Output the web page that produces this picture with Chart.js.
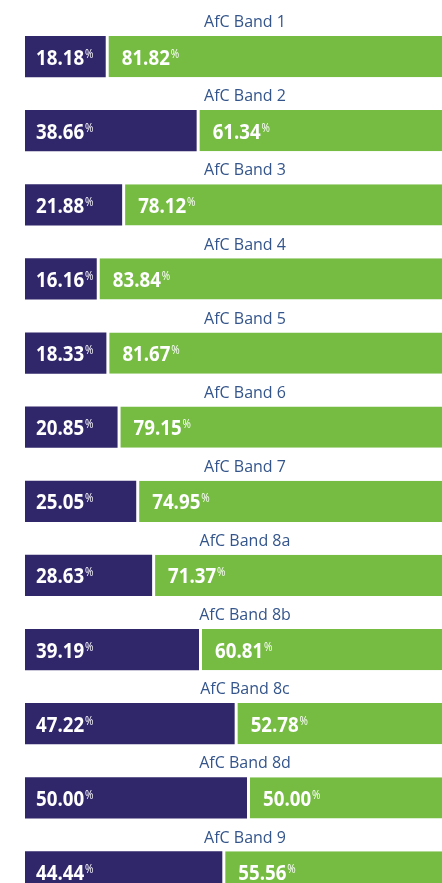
<!DOCTYPE html>
<html lang="en">
  <head>
    <meta charset="UTF-8" />
    <title>AfC Bands</title>
    <style>
      html, body {
        margin: 0;
        padding: 0;
        background: #ffffff;
        overflow: hidden;
      }
      #wrap {
        width: 442px;
        height: 883px;
        overflow: hidden;
      }
    </style>
  </head>
  <body>
    <div id="wrap">
      <canvas id="myChart" width="470" height="909"></canvas>
    </div>
    <script src="https://cdn.jsdelivr.net/npm/chart.js"></script>
    <script>
      const bands = [
        "AfC Band 1", "AfC Band 2", "AfC Band 3", "AfC Band 4",
        "AfC Band 5", "AfC Band 6", "AfC Band 7", "AfC Band 8a",
        "AfC Band 8b", "AfC Band 8c", "AfC Band 8d", "AfC Band 9",
      ];
      const darkValues = [18.18, 38.66, 21.88, 16.16, 18.33, 20.85, 25.05, 28.63, 39.19, 47.22, 50.0, 44.44];
      const greenValues = [81.82, 61.34, 78.12, 83.84, 81.67, 79.15, 74.95, 71.37, 60.81, 52.78, 50.0, 55.56];

      const navy = "#30276b";
      const green = "#76bc43";

      // band names above each bar + value text inside segments
      const labelsPlugin = {
        id: "bandLabels",
        afterDatasetsDraw(chart) {
          const ctx = chart.ctx;
          const area = chart.chartArea;
          const yScale = chart.scales.y;
          ctx.save();
          ctx.fillStyle = "#34558b";
          ctx.font = "16px 'Open Sans', sans-serif";
          ctx.textAlign = "center";
          ctx.textBaseline = "middle";
          const cx = (area.left + area.right) / 2 - 2;
          bands.forEach((b, i) => {
            ctx.fillText(b, cx, yScale.getPixelForValue(i) - 34);
          });

          const sx = 0.85; // squeeze digits a bit, the original face is narrow
          chart.data.datasets.forEach((ds, di) => {
            const meta = chart.getDatasetMeta(di);
            const pad = di === 0 ? 11 : 16;
            meta.data.forEach((bar, i) => {
              const txt = ds.data[i].toFixed(2);
              const x = bar.base + pad;
              const base = bar.y + 8;
              ctx.save();
              ctx.translate(x, base);
              ctx.scale(sx, 1);
              ctx.textAlign = "left";
              ctx.textBaseline = "alphabetic";
              ctx.fillStyle = "#ffffff";
              ctx.font = "bold 22px 'Open Sans', sans-serif";
              ctx.fillText(txt, 0, 0);
              const w = ctx.measureText(txt).width;
              ctx.font = "12px 'Open Sans', sans-serif";
              ctx.fillText("%", w + 1, -7);
              ctx.restore();
            });
          });
          ctx.restore();
        },
      };

      const config = {
        type: "bar",
        data: {
          labels: bands,
          datasets: [
            {
              data: darkValues,
              backgroundColor: navy,
              borderWidth: 0,
              barPercentage: 0.555,
              categoryPercentage: 1,
            },
            {
              data: greenValues,
              backgroundColor: green,
              borderColor: "#ffffff",
              borderWidth: { left: 3, top: 0, right: 0, bottom: 0 },
              borderSkipped: false,
              barPercentage: 0.555,
              categoryPercentage: 1,
            },
          ],
        },
        options: {
          indexAxis: "y",
          responsive: false,
          animation: false,
          layout: { padding: { left: 25, top: 19.5, right: 1, bottom: 0 } },
          plugins: {
            legend: { display: false },
            tooltip: { enabled: false },
          },
          scales: {
            x: { stacked: true, min: 0, max: 100, display: false },
            y: { stacked: true, display: false },
          },
        },
        plugins: [labelsPlugin],
      };

      const myChart = new Chart(document.getElementById("myChart"), config);
    </script>
  </body>
</html>
